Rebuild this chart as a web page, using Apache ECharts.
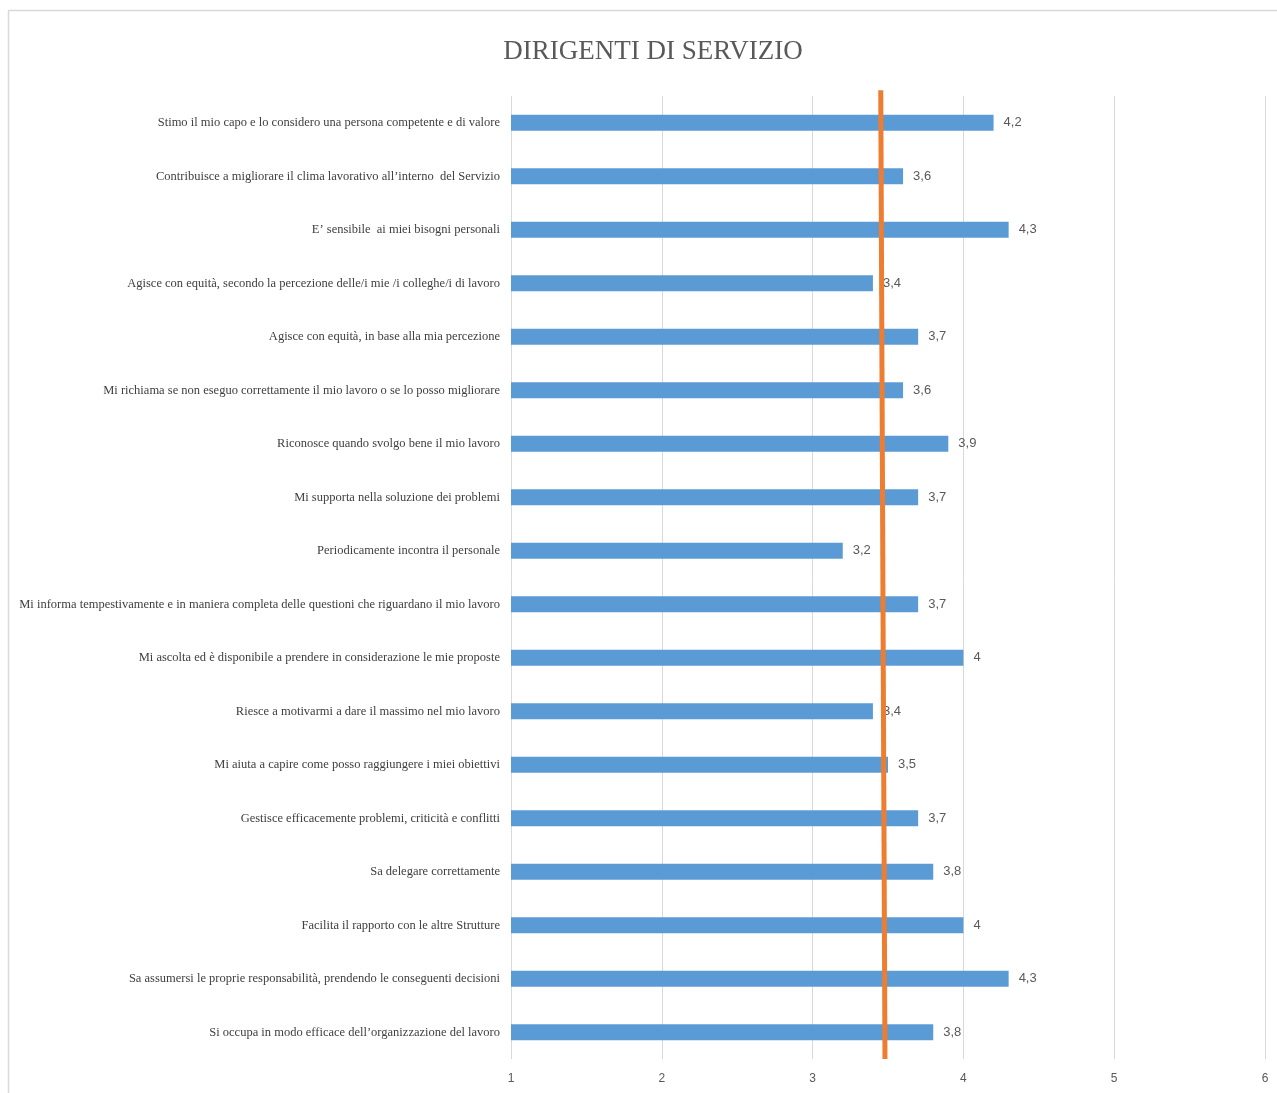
<!DOCTYPE html>
<html>
<head>
<meta charset="utf-8">
<script src="https://cdn.jsdelivr.net/npm/echarts@6/dist/echarts.min.js"></script>
<style>
  html, body { margin: 0; padding: 0; background: #fff; }
  #chart { width: 1277px; height: 1093px; }
</style>
</head>
<body>
<div id="chart"></div>
<script>
const categories = [
  'Stimo il mio capo e lo considero una persona competente e di valore',
  'Contribuisce a migliorare il clima lavorativo all\u2019interno  del Servizio',
  'E\u2019 sensibile  ai miei bisogni personali',
  'Agisce con equità, secondo la percezione delle/i mie /i colleghe/i di lavoro',
  'Agisce con equità, in base alla mia percezione',
  'Mi richiama se non eseguo correttamente il mio lavoro o se lo posso migliorare',
  'Riconosce quando svolgo bene il mio lavoro',
  'Mi supporta nella soluzione dei problemi',
  'Periodicamente incontra il personale',
  'Mi informa tempestivamente e in maniera completa delle questioni che riguardano il mio lavoro',
  'Mi ascolta ed è disponibile a prendere in considerazione le mie proposte',
  'Riesce a motivarmi a dare il massimo nel mio lavoro',
  'Mi aiuta a capire come posso raggiungere i miei obiettivi',
  'Gestisce efficacemente problemi, criticità e conflitti',
  'Sa delegare correttamente',
  'Facilita il rapporto con le altre Strutture',
  'Sa assumersi le proprie responsabilità, prendendo le conseguenti decisioni',
  'Si occupa in modo efficace dell\u2019organizzazione del lavoro'
];
const scores = [4.2, 3.6, 4.3, 3.4, 3.7, 3.6, 3.9, 3.7, 3.2, 3.7, 4, 3.4, 3.5, 3.7, 3.8, 4, 4.3, 3.8];
// orange reference line: x value at top and bottom of the plot
const meanLine = [[3.452, 1.006], [3.48, 0]];
const xTicks = [1, 2, 3, 4, 5, 6];

const serif = '"Liberation Serif", "DejaVu Serif", serif';
const sans = '"Liberation Sans", "DejaVu Sans", sans-serif';

const chart = echarts.init(document.getElementById('chart'));
chart.setOption({
  backgroundColor: '#fff',
  animation: false,
  title: {
    text: 'DIRIGENTI DI SERVIZIO',
    left: 648,
    textAlign: 'center',
    top: 33,
    textStyle: { fontFamily: serif, fontSize: 27, fontWeight: 'normal', color: '#595959' }
  },
  graphic: [{
    type: 'rect',
    shape: { x: 8.5, y: 10.5, width: 1300, height: 1100 },
    style: { fill: 'none', stroke: '#d9d9d9', lineWidth: 1.5 },
    silent: true
  }],
  grid: { left: 511, right: 12, top: 96, bottom: 34, outerBoundsMode: 'none' },
  xAxis: {
    type: 'value',
    min: xTicks[0],
    max: xTicks[xTicks.length - 1],
    interval: 1,
    axisLine: { show: false },
    axisTick: { show: false },
    splitLine: { lineStyle: { color: '#d9d9d9', width: 1 } },
    axisLabel: { color: '#595959', fontFamily: sans, fontSize: 12, margin: 14 }
  },
  yAxis: [{
    type: 'category',
    data: categories,
    inverse: true,
    axisLine: { show: false },
    axisTick: { show: false },
    axisLabel: { color: '#404040', fontFamily: serif, fontSize: 12.5, margin: 11 }
  }, {
    type: 'value',
    min: 0,
    max: 1,
    show: false
  }],
  series: [{
    type: 'bar',
    data: scores,
    yAxisIndex: 0,
    barWidth: 16,
    itemStyle: { color: '#5b9bd5' },
    label: {
      show: true,
      position: 'right',
      distance: 10,
      color: '#595959',
      fontFamily: sans,
      fontSize: 13,
      formatter: p => String(p.value).replace('.', ',')
    },
    z: 2
  }, {
    type: 'line',
    yAxisIndex: 1,
    data: meanLine,
    symbol: 'none',
    clip: false,
    lineStyle: { color: '#ed7d31', width: 5 },
    z: 3
  }]
});
</script>
</body>
</html>
